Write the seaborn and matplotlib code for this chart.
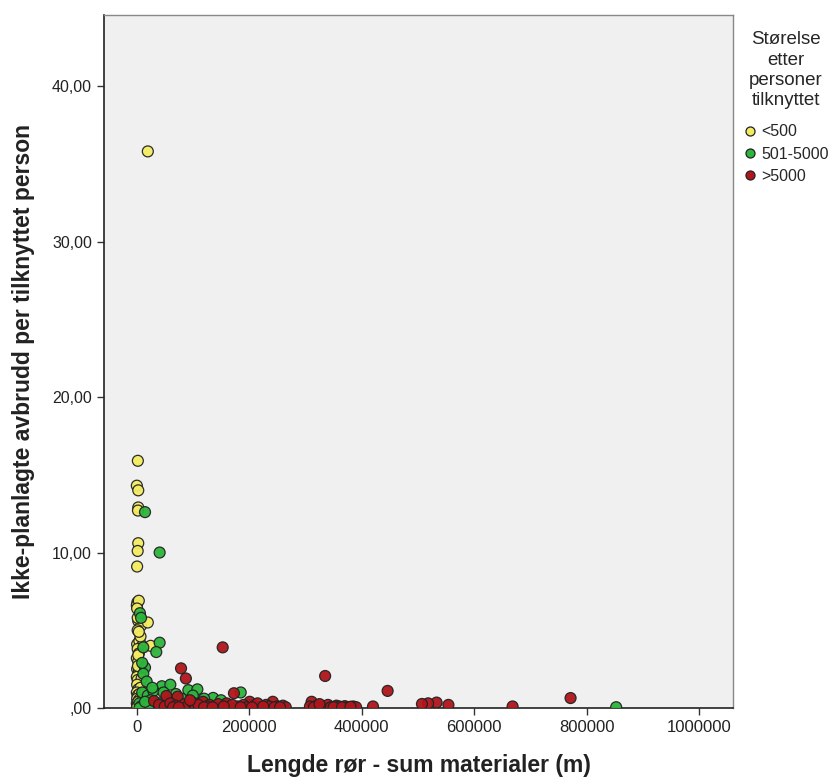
import matplotlib
matplotlib.use("Agg")
import matplotlib.pyplot as plt
import seaborn as sns
import pandas as pd
from matplotlib.ticker import FuncFormatter, FixedLocator

# ---- data ----
small_x = [20000, 2300, 500, 3000, 3000, 2500, 3000, 2000, 1000, 1500, 500, 4000, 6000, 3000, 8000,
           20000, 2000, 1000, 5000, 10000, 25000, 2000, 500, 3000, 1000, 4000, 6000, 500, 2000, 9000,
           1000, 3000, 7000, 500, 2000, 5000, 1000, 4000, 8000, 500, 2000, 3000, 6000, 1000, 10000,
           12000, 15000, 4000, 7000, 2500, 1500, 9000, 1000, 2000, 4000, 3000]
small_y = [35.8, 15.9, 14.3, 14.0, 12.9, 12.7, 10.6, 10.1, 9.1, 6.8, 6.6, 6.9, 5.9, 5.6, 5.3,
           5.5, 5.0, 4.1, 4.3, 4.0, 4.0, 3.8, 3.2, 3.0, 2.5, 2.4, 2.2, 2.0, 1.8, 1.9,
           1.5, 1.2, 1.3, 1.0, 0.8, 0.9, 0.6, 0.5, 0.7, 0.3, 0.2, 0.4, 0.1, 0.05, 0.3,
           0.6, 1.0, 3.5, 4.6, 2.7, 0.1, 0.2, 6.4, 5.8, 4.9, 3.4]

mid_x = [15000, 41000, 6000, 8000, 12000, 41000, 35000, 15000, 12000, 45000, 60000, 92000, 108000,
         136000, 150000, 120000, 185000, 852000, 10000, 20000, 30000, 25000, 5000, 8000, 40000,
         55000, 70000, 80000, 95000, 100000, 18000, 22000, 65000, 160000, 200000, 250000, 5000,
         15000, 48000, 10000, 28000, 112000, 85000]
mid_y = [12.6, 10.0, 6.1, 5.8, 3.9, 4.2, 3.6, 2.6, 2.2, 1.4, 1.5, 1.15, 1.2,
         0.65, 0.5, 0.6, 1.0, 0.05, 1.0, 0.8, 1.1, 0.5, 0.3, 0.1, 0.3,
         0.7, 0.9, 0.6, 0.3, 0.8, 1.7, 0.2, 0.2, 0.2, 0.2, 0.1, 0.0,
         0.4, 1.0, 2.9, 1.3, 0.3, 0.15]

large_x = [153000, 79000, 87600, 173000, 53000, 73000, 31000, 118000, 335000, 446000, 771000, 668000,
           554000, 533000, 518000, 507000, 420000, 311000, 308000, 201000, 242000, 130000, 140000,
           160000, 180000, 190000, 210000, 220000, 230000, 250000, 260000, 265000, 320000, 330000,
           340000, 345000, 355000, 360000, 370000, 375000, 385000, 390000, 40000, 50000, 60000,
           70000, 85000, 90000, 100000, 105000, 110000, 125000, 145000, 165000, 195000, 235000,
           170000, 120000, 65000, 95000, 215000, 75000, 135000, 155000, 185000, 205000, 225000,
           245000, 255000, 315000, 325000, 350000, 365000, 380000]
large_y = [3.9, 2.55, 1.9, 0.95, 0.77, 0.73, 0.45, 0.4, 2.06, 1.1, 0.64, 0.1,
           0.2, 0.35, 0.3, 0.26, 0.1, 0.4, 0.1, 0.4, 0.4, 0.2, 0.1,
           0.3, 0.1, 0.2, 0.15, 0.05, 0.2, 0.1, 0.15, 0.05, 0.15, 0.1,
           0.2, 0.05, 0.15, 0.1, 0.12, 0.05, 0.1, 0.05, 0.2, 0.1, 0.3,
           0.15, 0.25, 0.1, 0.35, 0.05, 0.2, 0.1, 0.25, 0.05, 0.05, 0.1,
           0.2, 0.05, 0.05, 0.5, 0.3, 0.05, 0.05, 0.1, 0.05, 0.05, 0.1,
           0.05, 0.05, 0.05, 0.25, 0.05, 0.05, 0.08]

groups = ["<500", "501-5000", ">5000"]
colors = ["#F3EC62", "#2DB53C", "#B0161B"]
legend_title = "Størelse\netter\npersoner\ntilknyttet"
x_label = "Lengde rør - sum materialer (m)"
y_label = "Ikke-planlagte avbrudd per tilknyttet person"
x_ticks = [0, 200000, 400000, 600000, 800000, 1000000]
y_ticks = [0, 10, 20, 30, 40]

df = pd.concat([
    pd.DataFrame({"x": small_x, "y": small_y, "g": groups[0]}),
    pd.DataFrame({"x": mid_x, "y": mid_y, "g": groups[1]}),
    pd.DataFrame({"x": large_x, "y": large_y, "g": groups[2]}),
], ignore_index=True)

sns.set_style("white")
plt.rcParams["font.family"] = ["Liberation Sans", "DejaVu Sans"]

fig = plt.figure(figsize=(8.38, 7.80), dpi=100)
ax = fig.add_axes([0.124, 0.0923, 0.751, 0.889])
ax.set_facecolor("#F0F0F0")

sns.scatterplot(data=df, x="x", y="y", hue="g", hue_order=groups,
                palette=dict(zip(groups, colors)), s=62, edgecolor="#222222",
                linewidth=0.9, alpha=0.95, legend=False, ax=ax, zorder=3)

ax.set_xlim(-58000, 1060000)
ax.set_ylim(0, 44.6)
ax.xaxis.set_major_locator(FixedLocator(x_ticks))
ax.yaxis.set_major_locator(FixedLocator(y_ticks))
ax.xaxis.set_major_formatter(FuncFormatter(lambda v, p: f"{int(v)}"))
ax.yaxis.set_major_formatter(FuncFormatter(lambda v, p: (",00" if v == 0 else f"{v:.2f}".replace(".", ","))))
ax.tick_params(axis="both", direction="out", length=5, width=1, color="#333333",
               labelsize=12, labelcolor="#222222", bottom=True, left=True)
ax.tick_params(axis="y", labelsize=11.5)
ax.set_xlabel(x_label, fontsize=16.5, fontweight="bold", color="#222222", labelpad=14)
ax.set_ylabel(y_label, fontsize=16.5, fontweight="bold", color="#222222", labelpad=12)
for side in ["left", "bottom"]:
    ax.spines[side].set_color("#222222")
    ax.spines[side].set_linewidth(1.2)
for side in ["top", "right"]:
    ax.spines[side].set_color("#888888")
    ax.spines[side].set_linewidth(1.0)

handles = [plt.Line2D([], [], marker="o", linestyle="", markerfacecolor=c,
                      markeredgecolor="#222222", markersize=6.5, markeredgewidth=0.9)
           for c in colors]
leg = fig.legend(handles, groups, title=legend_title, loc="upper left",
                 bbox_to_anchor=(0.877, 0.97), frameon=False, fontsize=11.5,
                 title_fontsize=13.5, handletextpad=0.25, labelspacing=0.45,
                 borderpad=0.0, handlelength=0.9)
leg.get_title().set_multialignment("center")
leg.get_title().set_linespacing(1.25)
leg._legend_box.sep = 11

fig.savefig("out.png", dpi=100)
